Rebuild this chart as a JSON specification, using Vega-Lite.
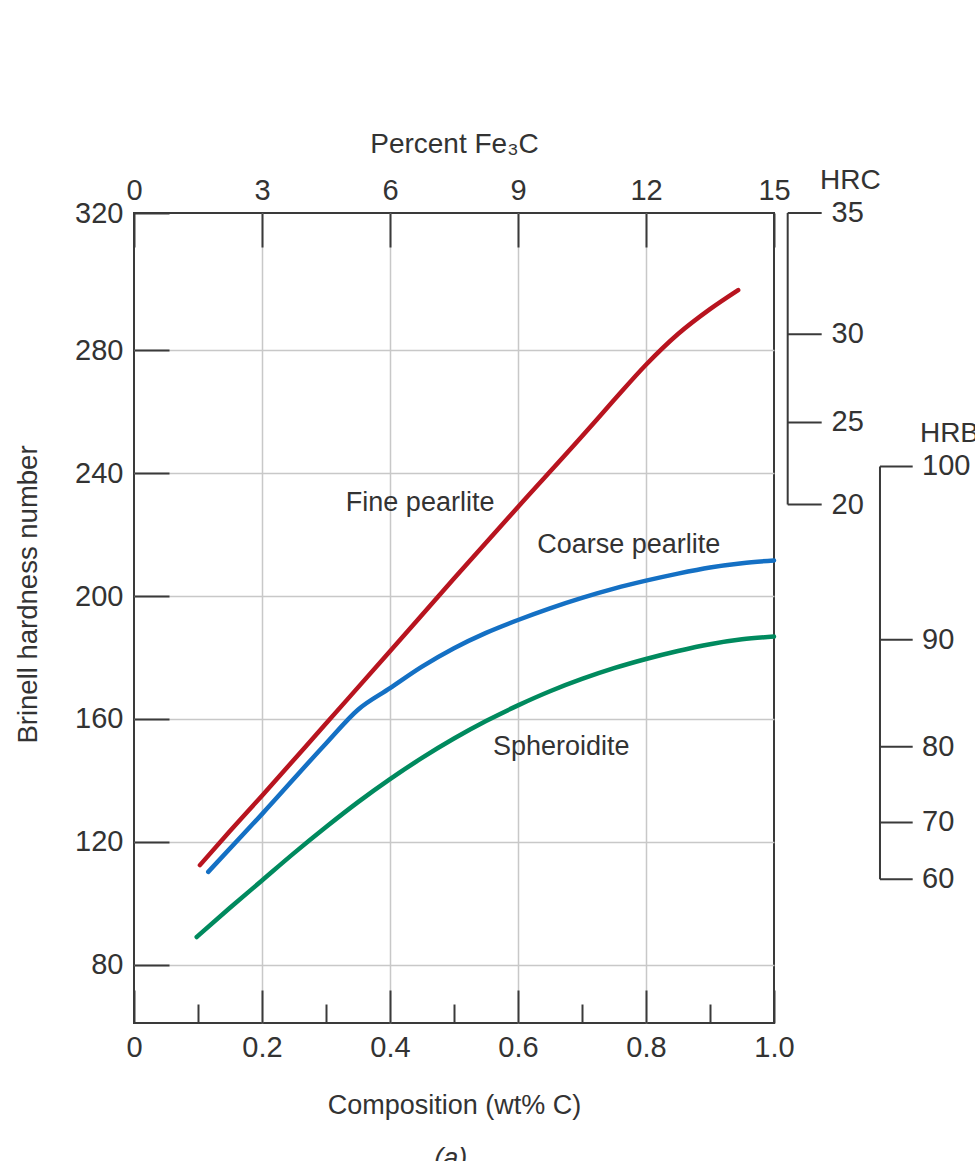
{
  "$schema": "https://vega.github.io/schema/vega-lite/v6.json",
  "width": 640,
  "height": 810,
  "autosize": {"type": "none"},
  "padding": {"left": 134, "top": 213, "right": 201, "bottom": 138},
  "background": "white",
  "config": {
    "font": "Liberation Sans",
    "view": {"stroke": "#3a3a3a", "strokeWidth": 2},
    "axis": {
      "labelColor": "#333333",
      "titleColor": "#333333",
      "tickColor": "#3a3a3a",
      "tickWidth": 2,
      "labelFont": "Liberation Sans",
      "titleFont": "Liberation Sans",
      "titleFontWeight": "normal",
      "labelFontSize": 29,
      "titleFontSize": 27,
      "labelFlush": false,
      "labelOverlap": false,
      "labelBound": false,
      "gridColor": "#c8c8c8",
      "gridWidth": 1.5,
      "domain": false
    }
  },
  "datasets": {
    "curves": [
      {"structure": "Fine pearlite", "c": 0.103, "b": 112.4},
      {"structure": "Fine pearlite", "c": 0.15, "b": 123.5},
      {"structure": "Fine pearlite", "c": 0.2, "b": 135},
      {"structure": "Fine pearlite", "c": 0.3, "b": 158.5},
      {"structure": "Fine pearlite", "c": 0.4, "b": 182},
      {"structure": "Fine pearlite", "c": 0.5, "b": 205.7},
      {"structure": "Fine pearlite", "c": 0.6, "b": 229},
      {"structure": "Fine pearlite", "c": 0.7, "b": 252},
      {"structure": "Fine pearlite", "c": 0.75, "b": 263.8},
      {"structure": "Fine pearlite", "c": 0.8, "b": 275.3},
      {"structure": "Fine pearlite", "c": 0.85, "b": 285.3},
      {"structure": "Fine pearlite", "c": 0.9, "b": 293.4},
      {"structure": "Fine pearlite", "c": 0.944, "b": 299.6},
      {"structure": "Coarse pearlite", "c": 0.116, "b": 110.2},
      {"structure": "Coarse pearlite", "c": 0.2, "b": 129},
      {"structure": "Coarse pearlite", "c": 0.3, "b": 152},
      {"structure": "Coarse pearlite", "c": 0.35, "b": 163},
      {"structure": "Coarse pearlite", "c": 0.4, "b": 170},
      {"structure": "Coarse pearlite", "c": 0.45, "b": 177},
      {"structure": "Coarse pearlite", "c": 0.5, "b": 183},
      {"structure": "Coarse pearlite", "c": 0.55, "b": 188},
      {"structure": "Coarse pearlite", "c": 0.6, "b": 192.2},
      {"structure": "Coarse pearlite", "c": 0.65, "b": 196},
      {"structure": "Coarse pearlite", "c": 0.7, "b": 199.4},
      {"structure": "Coarse pearlite", "c": 0.75, "b": 202.4},
      {"structure": "Coarse pearlite", "c": 0.8, "b": 205},
      {"structure": "Coarse pearlite", "c": 0.85, "b": 207.3},
      {"structure": "Coarse pearlite", "c": 0.9, "b": 209.3},
      {"structure": "Coarse pearlite", "c": 0.95, "b": 210.7},
      {"structure": "Coarse pearlite", "c": 1.0, "b": 211.6},
      {"structure": "Spheroidite", "c": 0.098, "b": 89},
      {"structure": "Spheroidite", "c": 0.15, "b": 98.5},
      {"structure": "Spheroidite", "c": 0.2, "b": 107.4},
      {"structure": "Spheroidite", "c": 0.25, "b": 116.3},
      {"structure": "Spheroidite", "c": 0.3, "b": 124.8},
      {"structure": "Spheroidite", "c": 0.35, "b": 132.9},
      {"structure": "Spheroidite", "c": 0.4, "b": 140.4},
      {"structure": "Spheroidite", "c": 0.45, "b": 147.3},
      {"structure": "Spheroidite", "c": 0.5, "b": 153.6},
      {"structure": "Spheroidite", "c": 0.55, "b": 159.3},
      {"structure": "Spheroidite", "c": 0.6, "b": 164.4},
      {"structure": "Spheroidite", "c": 0.65, "b": 169},
      {"structure": "Spheroidite", "c": 0.7, "b": 173},
      {"structure": "Spheroidite", "c": 0.75, "b": 176.5},
      {"structure": "Spheroidite", "c": 0.8, "b": 179.5},
      {"structure": "Spheroidite", "c": 0.85, "b": 182.1},
      {"structure": "Spheroidite", "c": 0.9, "b": 184.3},
      {"structure": "Spheroidite", "c": 0.95, "b": 185.9},
      {"structure": "Spheroidite", "c": 1.0, "b": 186.8}
    ],
    "labels": [
      {"label": "Fine pearlite", "c": 0.331, "b": 227.7},
      {"label": "Coarse pearlite", "c": 0.63, "b": 214.0},
      {"label": "Spheroidite", "c": 0.561, "b": 148.2}
    ],
    "hrc": [
      {"hrc": 35, "b": 324.7},
      {"hrc": 30, "b": 285.2},
      {"hrc": 25, "b": 256.5},
      {"hrc": 20, "b": 229.8}
    ],
    "hrb": [
      {"hrb": 100, "b": 242.2},
      {"hrb": 90, "b": 185.8},
      {"hrb": 80, "b": 150.9},
      {"hrb": 70, "b": 126.3},
      {"hrb": 60, "b": 107.8}
    ]
  },
  "resolve": {"axis": {"x": "independent", "y": "independent"}},
  "layer": [
    {
      "data": {"name": "curves"},
      "mark": {"type": "line", "strokeWidth": 4.5, "strokeCap": "round", "strokeJoin": "round", "interpolate": "monotone"},
      "encoding": {
        "x": {
          "field": "c", "type": "quantitative",
          "scale": {"domain": [0, 1], "nice": false, "zero": false},
          "axis": {
            "orient": "bottom",
            "values": [0, 0.2, 0.4, 0.6, 0.8, 1],
            "labelExpr": "datum.value == 0 ? '0' : format(datum.value, '.1f')",
            "tickSize": -33,
            "labelPadding": 43,
            "grid": true,
            "gridOpacity": {"condition": {"test": "datum.value <= 0 || datum.value >= 1", "value": 0}, "value": 1},
            "title": "Composition (wt% C)",
            "titlePadding": 30
          }
        },
        "y": {
          "field": "b", "type": "quantitative",
          "scale": {"domain": [61, 324.7], "nice": false, "zero": false},
          "axis": {
            "orient": "left",
            "values": [80, 120, 160, 200, 240, 280, 324.7],
            "labelExpr": "datum.value > 300 ? '320' : datum.label",
            "tickSize": -35,
            "labelPadding": 46,
            "grid": true,
            "gridOpacity": {"condition": {"test": "datum.value > 300", "value": 0}, "value": 1},
            "title": "Brinell hardness number",
            "titleFontSize": 27.5,
            "titleY": 381,
            "titlePadding": 32
          }
        },
        "color": {
          "field": "structure", "type": "nominal",
          "scale": {"domain": ["Fine pearlite", "Coarse pearlite", "Spheroidite"], "range": ["#b8141f", "#1470c4", "#008a5e"]},
          "legend": null
        }
      }
    },
    {
      "data": {"name": "labels"},
      "mark": {"type": "text", "align": "left", "baseline": "alphabetic", "fontSize": 27, "color": "#333333"},
      "encoding": {
        "x": {
          "field": "c", "type": "quantitative",
          "axis": {
            "orient": "top",
            "values": [0, 0.2, 0.4, 0.6, 0.8, 1],
            "labelExpr": "format(datum.value * 15, 'd')",
            "tickSize": -34,
            "labelPadding": 42,
            "grid": false,
            "title": "Percent Fe₃C",
            "titleFontSize": 28,
            "titlePadding": 18
          }
        },
        "y": {"field": "b", "type": "quantitative", "axis": null},
        "text": {"field": "label"}
      }
    },
    {
      "data": {"name": "hrc"},
      "mark": {"type": "rule", "strokeWidth": 2, "color": "#3a3a3a"},
      "encoding": {
        "x": {
          "datum": 1.0214,
          "axis": {
            "orient": "bottom",
            "values": [0.1, 0.3, 0.5, 0.7, 0.9],
            "tickSize": -19,
            "labels": false,
            "grid": false,
            "title": null
          }
        },
        "y": {"aggregate": "min", "field": "b", "type": "quantitative", "axis": null},
        "y2": {"aggregate": "max", "field": "b"}
      }
    },
    {
      "data": {"name": "hrc"},
      "mark": {"type": "rule", "strokeWidth": 2, "color": "#3a3a3a"},
      "encoding": {
        "x": {"datum": 1.0214, "axis": null},
        "x2": {"datum": 1.0745},
        "y": {"field": "b", "type": "quantitative", "axis": null}
      }
    },
    {
      "data": {"name": "hrc"},
      "mark": {"type": "text", "align": "left", "baseline": "middle", "fontSize": 29, "color": "#333333"},
      "encoding": {
        "x": {"datum": 1.09, "axis": null},
        "y": {"field": "b", "type": "quantitative", "axis": null},
        "text": {"field": "hrc"}
      }
    },
    {
      "data": {"values": [{"t": "HRC"}]},
      "mark": {"type": "text", "align": "left", "baseline": "alphabetic", "fontSize": 28, "color": "#333333"},
      "encoding": {
        "x": {"datum": 1.072, "axis": null},
        "y": {"datum": 332.4, "axis": null},
        "text": {"field": "t"}
      }
    },
    {
      "data": {"name": "hrb"},
      "mark": {"type": "rule", "strokeWidth": 2, "color": "#3a3a3a"},
      "encoding": {
        "x": {"datum": 1.1656, "axis": null},
        "y": {"aggregate": "min", "field": "b", "type": "quantitative", "axis": null},
        "y2": {"aggregate": "max", "field": "b"}
      }
    },
    {
      "data": {"name": "hrb"},
      "mark": {"type": "rule", "strokeWidth": 2, "color": "#3a3a3a"},
      "encoding": {
        "x": {"datum": 1.1656, "axis": null},
        "x2": {"datum": 1.2167},
        "y": {"field": "b", "type": "quantitative", "axis": null}
      }
    },
    {
      "data": {"name": "hrb"},
      "mark": {"type": "text", "align": "left", "baseline": "middle", "fontSize": 29, "color": "#333333"},
      "encoding": {
        "x": {"datum": 1.2313, "axis": null},
        "y": {"field": "b", "type": "quantitative", "axis": null},
        "text": {"field": "hrb"}
      }
    },
    {
      "data": {"values": [{"t": "HRB"}]},
      "mark": {"type": "text", "align": "left", "baseline": "alphabetic", "fontSize": 28, "color": "#333333"},
      "encoding": {
        "x": {"datum": 1.228, "axis": null},
        "y": {"datum": 250.1, "axis": null},
        "text": {"field": "t"}
      }
    },
    {
      "data": {"values": [{"t": "(a)"}]},
      "mark": {"type": "text", "align": "center", "baseline": "alphabetic", "fontSize": 27, "fontStyle": "italic", "color": "#333333"},
      "encoding": {
        "x": {"datum": 0.495, "axis": null},
        "y": {"datum": 14.1, "axis": null},
        "text": {"field": "t"}
      }
    }
  ]
}
